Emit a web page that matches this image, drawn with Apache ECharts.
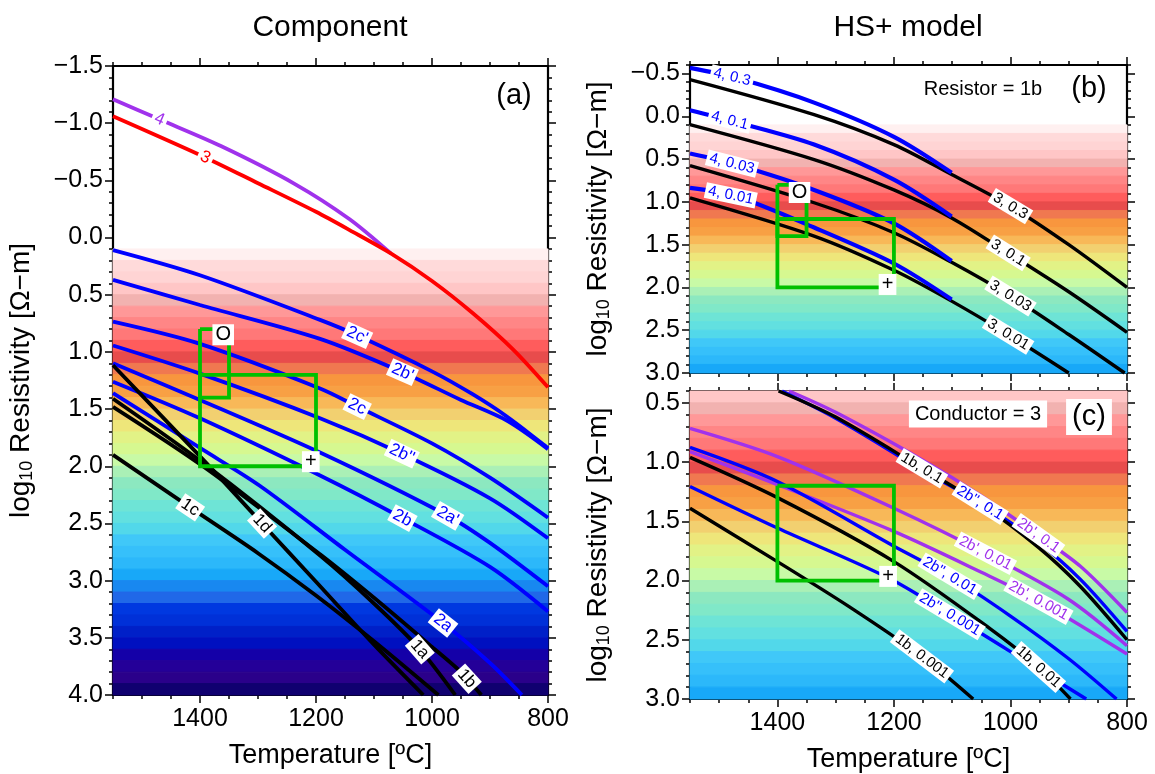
<!DOCTYPE html>
<html><head><meta charset="utf-8">
<script src="https://cdn.jsdelivr.net/npm/echarts@6/dist/echarts.min.js"></script>
<style>html,body{margin:0;padding:0;background:#fff}#c{width:1155px;height:774px}</style>
</head><body><div id="c"></div>
<script>
// ---------------- tick values ----------------
const xMajorTicks = [800, 1000, 1200, 1400];
const xMinorTicks = [800,850,900,950,1000,1050,1100,1150,1200,1250,1300,1350,1400,1450,1500,1550];
const yMajorA = [-1.5,-1.0,-0.5,0.0,0.5,1.0,1.5,2.0,2.5,3.0,3.5,4.0];
const yMajorB = [-0.5,0.0,0.5,1.0,1.5,2.0,2.5,3.0];
const yMajorC = [0.5,1.0,1.5,2.0,2.5,3.0];

// ---------------- background colour bands (log10 rho, 0.1 wide, from 0.1) ----------------
const bandColors = ['#fff0f0','#ffdada','#ffd4d4','#ffc6c6','#f2b2b0','#ff9898','#ff8686','#ff7878','#ff5c5c','#e84c4c',
  '#f07850','#f8963e','#f8a044','#f8b858','#f2d070','#eee67a','#e2f286','#d6f890','#c8faa6','#aaf0b6',
  '#8ce8c0','#80e8c8','#6ee4d6','#62e0e0','#52d8ea','#40c8f8','#36c0fa','#2cb8fa','#18a8f8','#1888f0',
  '#2068e8','#0038e0','#0030d8','#0020c8','#0010c0','#1400a8','#240098','#2a008a','#100070'];
const bandFirst = 0.1, bandWidth = 0.1;

// ---------------- panel (a) curves [T degC, log10 rho] ----------------
const a4    = [[1550,-1.21],[1473,-1.04],[1364,-0.80],[1237,-0.47],[1142,-0.16],[1071,0.139]];
const a3    = [[1550,-1.06],[1393,-0.705],[1300,-0.475],[1200,-0.225],[1142,-0.065],[1071,0.139],[1000,0.38],[930,0.66],[860,0.98],[800,1.31]];
const a2cp  = [[1550,0.11],[1400,0.33],[1193,0.72],[1129,0.855],[1000,1.17],[930,1.37],[871,1.565],[800,1.84]];
const a2bp  = [[1550,0.37],[1400,0.59],[1193,0.886],[1052,1.175],[950,1.42],[871,1.60],[800,1.85]];
const a2c   = [[1550,0.736],[1400,0.93],[1193,1.32],[1129,1.478],[1000,1.80],[900,2.10],[800,2.45]];
const a2bpp = [[1550,0.944],[1400,1.19],[1193,1.58],[1052,1.89],[900,2.28],[800,2.63]];
const a2ap  = [[1550,1.10],[1400,1.42],[1193,1.88],[974,2.43],[900,2.67],[800,3.05]];
const a2b   = [[1550,1.26],[1400,1.58],[1193,2.08],[1052,2.45],[900,2.88],[800,3.27]];
const a2a   = [[1550,1.36],[1400,1.84],[1297,2.17],[1150,2.73],[981,3.37],[900,3.72],[845,4.0]];
const a1c   = [[1550,1.90],[1417,2.36],[1300,2.76],[1200,3.13],[1100,3.53],[989,4.0]];
const a1d   = [[1550,1.117],[1395,1.94],[1293,2.50],[1200,3.01],[1100,3.56],[1015,4.0]];
const a1a   = [[1550,1.41],[1395,1.97],[1193,2.78],[1100,3.20],[1021,3.60],[960,4.0]];
const a1b   = [[1550,1.48],[1395,2.00],[1193,2.77],[1100,3.15],[1000,3.58],[950,3.80],[915,4.0]];

// ---------------- panel (b) curves ----------------
const b3_03  = [[1550,-0.43],[1337,-0.02],[1200,0.33],[1101,0.68],[1000,1.05],[900,1.50],[800,2.0]];
const b3_01  = [[1550,0.096],[1337,0.505],[1200,0.86],[1101,1.187],[1004,1.597],[900,2.05],[800,2.524]];
const b3_003 = [[1550,0.576],[1337,1.01],[1200,1.36],[1101,1.706],[1000,2.10],[900,2.55],[804,3.0]];
const b3_001 = [[1550,0.954],[1337,1.40],[1200,1.80],[1101,2.16],[1004,2.55],[900,3.0]];
const b4_03  = [[1550,-0.566],[1471,-0.45],[1337,-0.16],[1200,0.24],[1101,0.66]];
const b4_01  = [[1550,-0.071],[1477,0.057],[1337,0.33],[1200,0.74],[1101,1.17]];
const b4_003 = [[1550,0.435],[1471,0.564],[1337,0.86],[1200,1.25],[1101,1.69]];
const b4_001 = [[1550,0.837],[1471,0.934],[1337,1.30],[1200,1.72],[1101,2.14]];

// ---------------- panel (c) curves ----------------
const c1b_01    = [[1398,0.4],[1300,0.62],[1152,1.052],[1052,1.35],[952,1.72],[880,2.05],[800,2.50]];
const c2bpp_01  = [[1392,0.4],[1300,0.63],[1152,1.065],[1052,1.346],[952,1.68],[880,1.99],[800,2.43]];
const c2bp_01   = [[1380,0.4],[1300,0.58],[1152,0.98],[1052,1.28],[952,1.62],[880,1.88],[800,2.27]];
const c2bp_001  = [[1550,0.716],[1400,0.954],[1200,1.39],[1043,1.77],[900,2.16],[800,2.55]];
const c2bp_0001 = [[1550,0.912],[1400,1.19],[1200,1.585],[1050,1.93],[952,2.17],[800,2.62]];
const c2bpp_001 = [[1550,0.876],[1400,1.164],[1200,1.71],[1104,1.963],[1000,2.30],[900,2.66],[818,3.0]];
const c2bpp_0001= [[1550,1.206],[1400,1.557],[1210,1.977],[1104,2.285],[1000,2.60],[952,2.75],[870,3.0]];
const c1b_001   = [[1550,0.96],[1400,1.30],[1200,1.84],[1034,2.41],[952,2.73],[897,3.0]];
const c1b_0001  = [[1550,1.39],[1400,1.84],[1277,2.22],[1152,2.64],[1064,3.0]];

// ---------------- green boxes ----------------
const boxO    = [[1400,0.8],[1350,0.8],[1350,1.4],[1400,1.4],[1400,0.8]];
const boxPlus = [[1400,1.2],[1200,1.2],[1200,2.0],[1400,2.0],[1400,1.2]];

// ---------------- styles ----------------
const FONT = "'Liberation Sans', Arial, Helvetica, sans-serif";
const BLUE = '#0000ff', RED = '#ff0000', PURPLE = '#a032ec', BLACK = '#000000', GREEN = '#00c000';

const grids = [
  {left:113, top:66, width:435, height:634},
  {left:690, top:65, width:437, height:308},
  {left:690, top:391, width:437, height:309}
];
const yRange = [[-1.5,4.0],[-0.6,3.0],[0.4,3.0]];
const yMajor = [yMajorA, yMajorB, yMajorC];

function minorList(lo, hi){ const r=[]; for(let k=Math.round(lo*10);k<=Math.round(hi*10);k++) r.push(+(k/10).toFixed(1)); return r; }
function fmtY(v){ const s = Math.abs(v).toFixed(1); return v < -1e-9 ? '\u2212' + s : s; }

const xAxes = [], yAxes = [], axisIdx = [];
const yName = '{n|log}{s|10}{n| Resistivity [\u03a9\u2212m]}';
const nameRich = { n:{fontSize:28, fontFamily:FONT, color:'#000'}, s:{fontSize:18, fontFamily:FONT, color:'#000', padding:[12,0,0,0]} };

grids.forEach((g, gi) => {
  const xi = xAxes.length, yi = yAxes.length;
  axisIdx.push([xi, yi]);
  const showXLabel = gi !== 1;
  ['bottom','top'].forEach(pos => {
    [true,false].forEach(major => {
      xAxes.push({
        type:'value', gridIndex:gi, min:800, max:1550, inverse:true, position:pos,
        axisLine:{show:major, onZero:false, lineStyle:{color:'#000', width:2.2}},
        axisTick:{show:true, length: major?8:4, customValues: major?xMajorTicks:xMinorTicks, lineStyle:{color:'#000', width:1.5}},
        axisLabel:{show: major && pos==='bottom' && showXLabel, customValues:xMajorTicks, fontSize:25, fontFamily:FONT, color:'#000', margin:12, formatter: v => String(v)},
        splitLine:{show:false},
        name: (major && pos==='bottom' && showXLabel) ? 'Temperature [\u00baC]' : '',
        nameLocation:'middle', nameGap:47, nameTextStyle:{fontSize:27, fontFamily:FONT, color:'#000'}
      });
    });
  });
  ['left','right'].forEach(pos => {
    [true,false].forEach(major => {
      yAxes.push({
        type:'value', gridIndex:gi, min:yRange[gi][0], max:yRange[gi][1], inverse:true, position:pos,
        axisLine:{show:major, onZero:false, lineStyle:{color:'#000', width:2.2}},
        axisTick:{show:true, length: major?8:4, customValues: major?yMajor[gi]:minorList(yRange[gi][0], yRange[gi][1]), lineStyle:{color:'#000', width:1.5}},
        axisLabel:{show: major && pos==='left', customValues:yMajor[gi], fontSize:25, fontFamily:FONT, color:'#000', margin:10, formatter: fmtY},
        splitLine:{show:false},
        name: (major && pos==='left') ? yName : '',
        nameLocation:'middle', nameRotate:90, nameGap: 77,
        nameTextStyle:{rich:nameRich, fontSize:28, fontFamily:FONT, color:'#000'}
      });
    });
  });
});

const series = [];
// background bands
grids.forEach((g, gi) => {
  const [ymin, ymax] = yRange[gi];
  const areas = [];
  bandColors.forEach((c, i) => {
    let lo = bandFirst + i*bandWidth, hi = lo + bandWidth;
    lo = Math.max(lo, ymin); hi = Math.min(hi, ymax);
    if (hi - lo > 1e-6) areas.push([{yAxis:lo, itemStyle:{color:c, borderColor:c, borderWidth:1}}, {yAxis:hi}]);
  });
  series.push({type:'line', xAxisIndex:axisIdx[gi][0], yAxisIndex:axisIdx[gi][1], data:[], z:0, silent:true,
    markArea:{silent:true, data:areas}});
});

const curves = [
  // panel a
  {g:0, name:'a4', data:a4, color:PURPLE, w:3.8},
  {g:0, name:'a3', data:a3, color:RED, w:3.8},
  {g:0, name:'a2cp', data:a2cp, color:BLUE, w:3.8},
  {g:0, name:'a2bp', data:a2bp, color:BLUE, w:3.8},
  {g:0, name:'a2c', data:a2c, color:BLUE, w:3.8},
  {g:0, name:'a2bpp', data:a2bpp, color:BLUE, w:3.8},
  {g:0, name:'a2ap', data:a2ap, color:BLUE, w:3.8},
  {g:0, name:'a2b', data:a2b, color:BLUE, w:3.8},
  {g:0, name:'a2a', data:a2a, color:BLUE, w:3.8},
  {g:0, name:'a1c', data:a1c, color:BLACK, w:3.8},
  {g:0, name:'a1d', data:a1d, color:BLACK, w:3.8},
  {g:0, name:'a1a', data:a1a, color:BLACK, w:3.8},
  {g:0, name:'a1b', data:a1b, color:BLACK, w:3.8},
  // panel b
  {g:1, name:'b3_03', data:b3_03, color:BLACK, w:3.4},
  {g:1, name:'b3_01', data:b3_01, color:BLACK, w:3.4},
  {g:1, name:'b3_003', data:b3_003, color:BLACK, w:3.4},
  {g:1, name:'b3_001', data:b3_001, color:BLACK, w:3.4},
  {g:1, name:'b4_03', data:b4_03, color:BLUE, w:4.2},
  {g:1, name:'b4_01', data:b4_01, color:BLUE, w:4.2},
  {g:1, name:'b4_003', data:b4_003, color:BLUE, w:4.2},
  {g:1, name:'b4_001', data:b4_001, color:BLUE, w:4.2},
  // panel c
  {g:2, name:'c2bp_01', data:c2bp_01, color:PURPLE, w:3.4},
  {g:2, name:'c2bp_001', data:c2bp_001, color:PURPLE, w:3.4},
  {g:2, name:'c2bp_0001', data:c2bp_0001, color:PURPLE, w:3.4},
  {g:2, name:'c2bpp_01', data:c2bpp_01, color:BLUE, w:3.4},
  {g:2, name:'c2bpp_001', data:c2bpp_001, color:BLUE, w:3.4},
  {g:2, name:'c2bpp_0001', data:c2bpp_0001, color:BLUE, w:3.4},
  {g:2, name:'c1b_01', data:c1b_01, color:BLACK, w:3.4},
  {g:2, name:'c1b_001', data:c1b_001, color:BLACK, w:3.4},
  {g:2, name:'c1b_0001', data:c1b_0001, color:BLACK, w:3.4}
];
const curveSeriesIndex = {};
curves.forEach(c => {
  curveSeriesIndex[c.name] = series.length;
  series.push({type:'line', name:c.name, xAxisIndex:axisIdx[c.g][0], yAxisIndex:axisIdx[c.g][1],
    data:c.data, showSymbol:false, symbol:'none', smooth:0.3, clip:true, z:3,
    lineStyle:{color:c.color, width:c.w, cap:'butt'}, silent:true});
});
// green boxes
[[0,boxO],[0,boxPlus],[1,boxO],[1,boxPlus],[2,boxPlus]].forEach(([gi, box]) => {
  series.push({type:'line', xAxisIndex:axisIdx[gi][0], yAxisIndex:axisIdx[gi][1], data:box,
    showSymbol:false, symbol:'none', z:5, silent:true, lineStyle:{color:GREEN, width:3.8, join:'miter'}});
});

// curve labels: [panel, curve, T, text, colour]
const curveLabels = [
  [0,'a4',1470,'4',PURPLE],[0,'a3',1391,'3',RED],
  [0,'a2cp',1129,"2c'",BLUE],[0,'a2bp',1051,"2b'",BLUE],[0,'a2c',1129,'2c',BLUE],[0,'a2bpp',1052,"2b''",BLUE],
  [0,'a2ap',973,"2a'",BLUE],[0,'a2b',1051,'2b',BLUE],[0,'a2a',981,'2a',BLUE],
  [0,'a1c',1417,'1c',BLACK],[0,'a1d',1293,'1d',BLACK],[0,'a1a',1021,'1a',BLACK],[0,'a1b',940,'1b',BLACK],
  [1,'b4_03',1478,'4, 0.3',BLUE],[1,'b4_01',1482,'4, 0.1',BLUE],[1,'b4_003',1478,'4, 0.03',BLUE],[1,'b4_001',1480,'4, 0.01',BLUE],
  [1,'b3_03',1000,'3, 0.3',BLACK],[1,'b3_01',1004,'3, 0.1',BLACK],[1,'b3_003',1000,'3, 0.03',BLACK],[1,'b3_001',1004,'3, 0.01',BLACK],
  [2,'c1b_01',1152,'1b, 0.1',BLACK],[2,'c2bpp_01',1052,"2b'', 0.1",BLUE],[2,'c2bp_01',952,"2b', 0.1",PURPLE],
  [2,'c2bp_001',1043,"2b', 0.01",PURPLE],[2,'c2bpp_001',1104,"2b'', 0.01",BLUE],[2,'c2bp_0001',952,"2b', 0.001",PURPLE],
  [2,'c2bpp_0001',1104,"2b'', 0.001",BLUE],[2,'c1b_001',952,'1b, 0.01',BLACK],[2,'c1b_0001',1152,'1b, 0.001',BLACK]
];
// box corner labels: [panel, T, v, text]
const boxLabels = [[0,1360,0.85,'O'],[0,1209,1.96,'+'],[1,1362,0.89,'O'],[1,1211,1.965,'+'],[2,1210,1.965,'+']];

const curveData = {}; curves.forEach(c => curveData[c.name] = c.data);
function interp(curve, T){
  for (let i=0;i<curve.length-1;i++){
    const [t1,v1]=curve[i],[t2,v2]=curve[i+1];
    if ((T-t1)*(T-t2)<=0) return v1+(v2-v1)*(T-t1)/(t2-t1);
  }
  return curve[curve.length-1][1];
}
const labelSeriesIndex = [];
grids.forEach((g, gi) => {
  labelSeriesIndex.push(series.length);
  const fs = gi===0 ? 17 : 15;
  const items = [];
  curveLabels.filter(l => l[0]===gi).forEach(l => {
    items.push({name:l[3], value:[l[2], interp(curveData[l[1]], l[2])], _curve:l[1],
      label:{color:l[4], fontSize:fs}});
  });
  boxLabels.filter(l => l[0]===gi).forEach(l => {
    items.push({name:l[3], value:[l[1], l[2]], label:{color:'#000', fontSize:20, padding:[1,3,0,3]}});
  });
  series.push({type:'scatter', xAxisIndex:axisIdx[gi][0], yAxisIndex:axisIdx[gi][1], data:items,
    symbolSize:0, z:10, silent:true, itemStyle:{color:'rgba(0,0,0,0)', opacity:1},
    label:{show:true, position:'inside', formatter:'{b}', backgroundColor:'#ffffff', opacity:1, padding:[1,3,0,3], fontFamily:FONT}});
});

const texts = [
  {x:330, y:28, t:'Component', fs:30},
  {x:908, y:28, t:'HS+ model', fs:30},
  {x:514, y:96, t:'(a)', fs:29},
  {x:1089, y:89, t:'(b)', fs:29},
  {x:983, y:89, t:'Resistor = 1b', fs:20},
  {x:978, y:414, t:'Conductor = 3', fs:20, box:true},
  {x:1089, y:417, t:'(c)', fs:29, box:true}
];
const graphic = texts.map(o => ({type:'text', z:20, style:{x:o.x, y:o.y, text:o.t, fontSize:o.fs, fontFamily:FONT,
  fill:'#000', align:'center', verticalAlign:'middle', backgroundColor: o.box ? '#fff' : null, padding: o.box ? [4,6,3,6] : 0}}));

const option = {
  animation:false, backgroundColor:'#fff',
  grid: grids.map(g => Object.assign({containLabel:false}, g)),
  xAxis:xAxes, yAxis:yAxes, series:series, graphic:graphic
};
const chart = echarts.init(document.getElementById('c'), null, {renderer:'canvas'});
chart.setOption(option);

// rotate curve labels along their curves
labelSeriesIndex.forEach(si => {
  series[si].data.forEach(it => {
    if (!it._curve) return;
    const d = curveData[it._curve], T = it.value[0], sIdx = curveSeriesIndex[it._curve];
    const p1 = chart.convertToPixel({seriesIndex:sIdx}, [T+12, interp(d, T+12)]);
    const p2 = chart.convertToPixel({seriesIndex:sIdx}, [T-12, interp(d, T-12)]);
    it.label.rotate = -Math.atan2(p2[1]-p1[1], p2[0]-p1[0]) * 180 / Math.PI;
  });
});
chart.setOption({series:series});
</script></body></html>
